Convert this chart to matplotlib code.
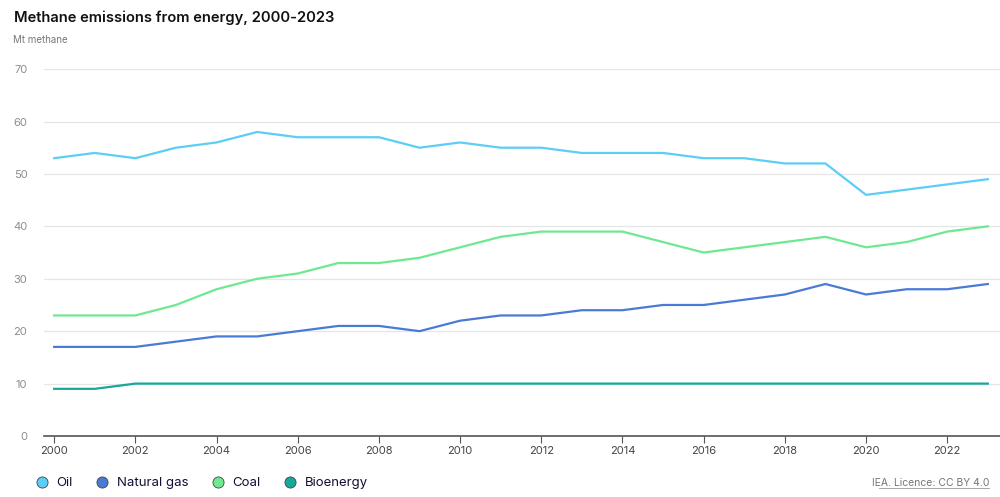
import matplotlib
matplotlib.use('Agg')
import matplotlib.pyplot as plt
from matplotlib.lines import Line2D

plt.rcParams['font.family'] = ['Inter', 'DejaVu Sans']

years = list(range(2000, 2024))
oil = [53, 54, 53, 55, 56, 58, 57, 57, 57, 55, 56, 55, 55, 54, 54, 54, 53, 53, 52, 52, 46, 47, 48, 49]
natural_gas = [17, 17, 17, 18, 19, 19, 20, 21, 21, 20, 22, 23, 23, 24, 24, 25, 25, 26, 27, 29, 27, 28, 28, 29]
coal = [23, 23, 23, 25, 28, 30, 31, 33, 33, 34, 36, 38, 39, 39, 39, 37, 35, 36, 37, 38, 36, 37, 39, 40]
bioenergy = [9, 9, 10, 10, 10, 10, 10, 10, 10, 10, 10, 10, 10, 10, 10, 10, 10, 10, 10, 10, 10, 10, 10, 10]

names = ['Oil', 'Natural gas', 'Coal', 'Bioenergy']
colors = ['#5ccdf6', '#4a7bd4', '#6ee891', '#17a899']

fig = plt.figure(figsize=(10, 4.97), dpi=100)
ax = fig.add_axes([0.044, 0.1227, 0.956, 0.7383])

for vals, c in zip([oil, natural_gas, coal, bioenergy], colors):
    ax.plot(years, vals, color=c, lw=1.6, solid_joinstyle='round')

ax.set_xlim(1999.75, 2023.3)
ax.set_ylim(0, 70)
ax.set_yticks(range(0, 71, 10))
ax.set_xticks(range(2000, 2023, 2))
ax.grid(axis='y', color='#e6e6e6', lw=0.9)
ax.set_axisbelow(True)
for s in ['top', 'right', 'left']:
    ax.spines[s].set_visible(False)
ax.spines['bottom'].set_color('#555555')
ax.spines['bottom'].set_linewidth(1.2)
ax.tick_params(axis='y', length=0, pad=12, labelsize=8, labelcolor='#8c8c8c')
ax.tick_params(axis='x', length=5, color='#555555', labelsize=8, labelcolor='#444444', pad=2)

fig.text(0.014, 0.965, 'Methane emissions from energy, 2000-2023', fontsize=10.6, color='#111111',
         fontweight='semibold', va='center')
fig.text(0.013, 0.92, 'Mt methane', fontsize=7, color='#777777', va='center')

handles = [Line2D([], [], marker='o', ls='none', markersize=8, markerfacecolor=c,
                  markeredgecolor='#444444', markeredgewidth=0.6) for c in colors]
fig.legend(handles, names, loc='center left', bbox_to_anchor=(0.035, 0.028), ncol=4, frameon=False,
           fontsize=9.5, handlelength=1.0, handletextpad=0.6, columnspacing=1.75,
           labelcolor='#111133', borderaxespad=0, borderpad=0)

fig.text(0.989, 0.028, 'IEA. Licence: CC BY 4.0', fontsize=7.5, color='#777777', ha='right', va='center')
fig.add_artist(Line2D([0.879, 0.989], [0.018, 0.018], color='#999999', lw=0.6))

fig.savefig('out.png', dpi=100)
